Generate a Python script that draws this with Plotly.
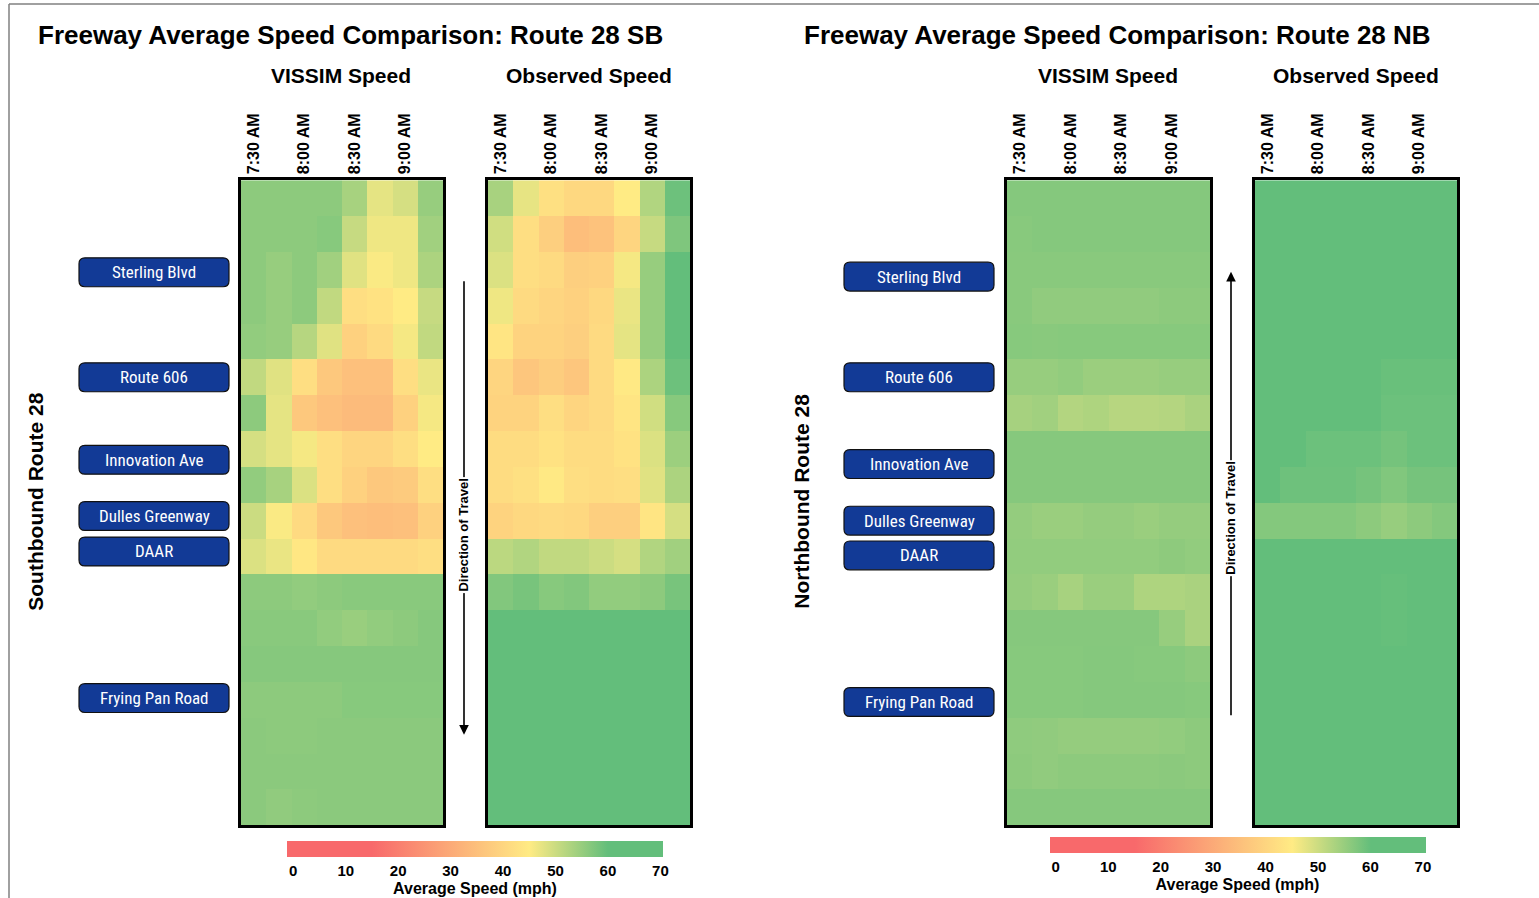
import plotly.graph_objects as go

W, H = 1539, 898

# ---------------- data ----------------
times = ["7:30 AM", "7:45 AM", "8:00 AM", "8:15 AM", "8:30 AM", "8:45 AM", "9:00 AM", "9:15 AM"]
tick_times = ["7:30 AM", "8:00 AM", "8:30 AM", "9:00 AM"]
segments = list(range(1, 19))

sb_vissim = [
    [56, 56, 56, 56, 53.5, 47.5, 49, 55],
    [56, 56, 56, 56.5, 50.5, 46.5, 46.5, 54],
    [56, 55, 56, 54, 48, 45.5, 46.5, 53],
    [56, 55, 56, 51, 42, 43, 45, 50.5],
    [55.5, 55, 52, 48, 39, 41, 46, 51],
    [51, 48, 42, 37, 35, 35, 42, 47],
    [56, 47.5, 37, 35, 34, 34, 39, 46],
    [49, 47.5, 46, 42, 40, 40, 42, 45],
    [55.5, 53.5, 48.5, 42, 39, 37, 37.5, 42],
    [50, 45.5, 41, 37, 35, 34.5, 35, 39],
    [48.5, 47, 44, 41, 41, 41, 41, 42],
    [56, 56, 55.5, 56, 56.3, 56.3, 56.3, 56.3],
    [56.3, 56.3, 56.3, 55.5, 54.8, 55.5, 56, 56.6],
    [56.6, 56.6, 56.6, 56.6, 56.6, 56.6, 56.6, 56.6],
    [56, 56, 56, 56, 56.5, 56.5, 56.5, 56.5],
    [56.2, 56, 56, 56.2, 56.2, 56.2, 56.2, 56.2],
    [56.2, 56.2, 56.2, 56.2, 56.2, 56.2, 56.2, 56.2],
    [56.2, 55.6, 56, 56.2, 56.2, 56.2, 56.2, 56.2],
]

sb_observed = [
    [53.4, 47.3, 42.5, 40.5, 40.5, 45, 52.5, 59],
    [49.5, 42, 38.5, 34.5, 35.5, 40, 50.5, 57.3],
    [48.5, 42, 41, 38.5, 39, 46, 55, 60],
    [46.5, 41, 40, 39, 40.5, 47, 55, 60],
    [43.5, 39.5, 39.5, 38.5, 41, 47.5, 55, 60],
    [40, 36.5, 38, 36.5, 41, 44.5, 53, 59],
    [39.5, 39.5, 42, 40, 41, 43.5, 49.5, 56.5],
    [41.5, 41.5, 43, 41.5, 41.5, 43, 48.5, 54.5],
    [41.5, 42.5, 44.5, 42, 41.5, 42, 48, 53],
    [39.5, 40.5, 41, 40.5, 38.5, 38.5, 43.5, 49],
    [51.5, 52.5, 51, 51, 50, 49, 52.5, 54],
    [57, 58, 56.5, 57, 55.5, 55.5, 56, 58],
    [60, 60, 60, 60, 60, 60, 60, 60],
    [60, 60, 60, 60, 60, 60, 60, 60],
    [60, 60, 60, 60, 60, 60, 60, 60],
    [60, 60, 60, 60, 60, 60, 60, 60],
    [60, 60, 60, 60, 60, 60, 60, 60],
    [60, 60, 60, 60, 60, 60, 60, 60],
]

nb_vissim = [
    [56.7, 56.7, 56.7, 56.7, 56.7, 56.7, 56.7, 56.7],
    [56.4, 56.7, 56.7, 56.7, 56.7, 56.7, 56.7, 56.7],
    [56.3, 56.3, 56.3, 56.3, 56.3, 56.3, 56.3, 56.3],
    [56.3, 55.6, 55.6, 55.6, 55.6, 55.6, 56, 56],
    [56.5, 56.3, 56.5, 56.5, 56.5, 56.5, 56.5, 56.5],
    [55, 55, 55.5, 54.6, 54.6, 54.6, 55, 55],
    [53.6, 54, 52.3, 52.8, 51.9, 51.9, 52.2, 53.2],
    [56.6, 56.6, 56.6, 56.6, 56.6, 56.6, 56.6, 56.6],
    [56.6, 56.6, 56.6, 56.6, 56.6, 56.6, 56.6, 56.6],
    [55.3, 54.7, 54.7, 55.2, 55.2, 54.7, 55.2, 55.2],
    [55.5, 55.5, 55.5, 55.5, 55.5, 55.5, 55.9, 55.5],
    [55.2, 54.7, 53.5, 54.7, 54.7, 52.8, 52.8, 53.2],
    [56.6, 56.6, 56.6, 56.6, 56.6, 56.6, 55, 53.2],
    [56.5, 56.5, 56.5, 56.7, 56.7, 56.5, 56.5, 56],
    [56.5, 56.5, 56.5, 56.7, 56.7, 56.7, 56.7, 56.5],
    [55.8, 55.6, 55.2, 55.2, 55.2, 55.2, 55.5, 56],
    [56, 55.6, 56, 56, 56, 56, 56.2, 56],
    [56.6, 56.6, 56.6, 56.6, 56.6, 56.6, 56.6, 56.6],
]

nb_observed = [
    [60, 60, 60, 60, 60, 60, 60, 60],
    [60, 60, 60, 60, 60, 60, 60, 60],
    [60, 60, 60, 60, 60, 60, 60, 60],
    [60, 60, 60, 60, 60, 60, 60, 60],
    [60, 60, 60, 60, 60, 60, 60, 60],
    [60, 60, 60, 60, 60, 59.4, 59.4, 59.4],
    [60, 60, 60, 60, 60, 59.1, 59.1, 59.1],
    [60, 60, 59.1, 59.1, 59.1, 58.3, 59.1, 59.1],
    [60, 58.9, 58.9, 58.9, 58.2, 57.1, 58.2, 58.2],
    [56.8, 56.8, 56.8, 56.8, 56, 55, 56, 56.8],
    [60, 60, 60, 60, 60, 60, 60, 60],
    [60, 60, 60, 60, 60, 59.7, 60, 60],
    [60, 60, 60, 60, 60, 59.7, 60, 60],
    [60, 60, 60, 60, 60, 60, 60, 60],
    [60, 60, 60, 60, 60, 60, 60, 60],
    [60, 60, 60, 60, 60, 60, 60, 60],
    [60, 60, 60, 60, 60, 60, 60, 60],
    [60, 60, 60, 60, 60, 60, 60, 60],
]

speed_ticks = [0, 10, 20, 30, 40, 50, 60, 70]

interchanges = ["Sterling Blvd", "Route 606", "Innovation Ave", "Dulles Greenway", "DAAR", "Frying Pan Road"]
sb_interchange_seg = [3.07, 6.0, 8.3, 9.87, 10.86, 14.95]
nb_interchange_seg = [3.19, 6.0, 8.42, 10.0, 10.97, 15.06]

# ---------------- helpers ----------------
def fx(px):
    return px / W


def fy(py):
    return 1 - py / H


CMIN, CMAX = -1.2, 70.5


def norm(v):
    return (v - CMIN) / (CMAX - CMIN)


colorscale = [
    [0.0, "#F8696B"],
    [norm(15), "#F8696B"],
    [norm(45), "#FFEB84"],
    [norm(60), "#63BE7B"],
    [1.0, "#63BE7B"],
]

FONT = "Arial, Liberation Sans, sans-serif"
NARROW = "Liberation Sans Narrow, Arial Narrow, Roboto Condensed, Roboto, sans-serif"

TOP, BOT = 181, 829
panels = [
    (sb_vissim, 241, 443, "", "coloraxis"),
    (sb_observed, 488, 690, "2", "coloraxis"),
    (nb_vissim, 1007, 1210, "3", "coloraxis2"),
    (nb_observed, 1255, 1457, "4", "coloraxis2"),
]

fig = go.Figure()
layout = {}
for z, x0, x1, sfx, cax in panels:
    fig.add_trace(go.Heatmap(
        z=z, x=times, y=segments, coloraxis=cax,
        xaxis="x" + sfx, yaxis="y" + sfx,
        hovertemplate="%{x}<br>Segment %{y}<br>%{z} mph<extra></extra>",
    ))
    layout["xaxis" + sfx] = dict(
        domain=[fx(x0), fx(x1)], anchor="y" + sfx, side="top",
        type="category", tickmode="array", tickvals=tick_times, ticktext=tick_times,
        tickangle=-90, tickfont=dict(family=FONT, size=16, color="black", weight="bold"),
        ticks="", showgrid=False, zeroline=False,
        showline=True, mirror=True, linecolor="black", linewidth=2.5,
    )
    layout["yaxis" + sfx] = dict(
        domain=[fy(BOT), fy(TOP)], anchor="x" + sfx, autorange="reversed",
        showticklabels=False, ticks="", showgrid=False, zeroline=False,
        showline=True, mirror=True, linecolor="black", linewidth=2.5,
    )


def cbar(cx, top):
    return dict(
        orientation="h", x=fx(cx), xanchor="center", y=fy(top), yanchor="top",
        lenmode="pixels", len=376, thicknessmode="pixels", thickness=16,
        outlinewidth=0, xpad=0, ypad=0, ticks="", tickvals=speed_ticks,
        tickfont=dict(family=FONT, size=15, color="black", weight="bold"),
        title=dict(text="Average Speed (mph)", side="bottom",
                   font=dict(family=FONT, size=16, color="black", weight="bold")),
    )


layout["coloraxis"] = dict(colorscale=colorscale, cmin=CMIN, cmax=CMAX, colorbar=cbar(475, 845))
layout["coloraxis2"] = dict(colorscale=colorscale, cmin=CMIN, cmax=CMAX, colorbar=cbar(1237.5, 841))

annotations = []
shapes = []


def txt(text, x, y, size, angle=0, bold=True, family=FONT, color="black"):
    annotations.append(dict(
        text=text, x=fx(x), y=fy(y), xref="paper", yref="paper", showarrow=False,
        xanchor="center", yanchor="middle", textangle=angle,
        font=dict(family=family, size=size, color=color, weight="bold" if bold else "normal"),
    ))


# main titles
txt("Freeway Average Speed Comparison: Route 28 SB", 350, 35, 26)
txt("Freeway Average Speed Comparison: Route 28 NB", 1117, 35, 26)
# panel headings
txt("VISSIM Speed", 341, 76, 21)
txt("Observed Speed", 589, 76, 21)
txt("VISSIM Speed", 1108, 76, 21)
txt("Observed Speed", 1356, 76, 21)
# side titles
txt("Southbound Route 28", 36, 504, 21, angle=-90)
txt("Northbound Route 28", 802, 504, 21, angle=-90)

# interchange labels (rounded boxes)
ROW_PX = (BOT - TOP) / 18.0


def rounded_box(cx, yseg, yref, w=150, h=29, r=6):
    x0, x1 = fx(cx - w / 2), fx(cx + w / 2)
    rx = r / W
    hy = (h / 2) / ROW_PX
    ry = r / ROW_PX
    y0, y1 = yseg - hy, yseg + hy
    path = (f"M {x0 + rx},{y0} L {x1 - rx},{y0} Q {x1},{y0} {x1},{y0 + ry} "
            f"L {x1},{y1 - ry} Q {x1},{y1} {x1 - rx},{y1} L {x0 + rx},{y1} "
            f"Q {x0},{y1} {x0},{y1 - ry} L {x0},{y0 + ry} Q {x0},{y0} {x0 + rx},{y0} Z")
    shapes.append(dict(type="path", path=path, xref="paper", yref=yref,
                       fillcolor="#123A96", line=dict(color="#111111", width=1.2)))


for names, segs, cx, yref in [(interchanges, sb_interchange_seg, 154, "y"),
                              (interchanges, nb_interchange_seg, 919, "y3")]:
    for name, s in zip(names, segs):
        rounded_box(cx, s, yref)
        annotations.append(dict(
            text=name, x=fx(cx), y=s, xref="paper", yref=yref, showarrow=False,
            xanchor="center", yanchor="middle",
            font=dict(family=NARROW, size=17, color="white"),
        ))

# direction of travel arrows
annotations.append(dict(text="", x=fx(464), y=fy(738), xref="paper", yref="paper",
                        ax=0, ay=-455, axref="pixel", ayref="pixel", showarrow=True,
                        arrowhead=2, arrowsize=1.2, arrowwidth=1.6, arrowcolor="black"))
annotations.append(dict(text="", x=fx(1231), y=fy(273), xref="paper", yref="paper",
                        ax=0, ay=445, axref="pixel", ayref="pixel", showarrow=True,
                        arrowhead=2, arrowsize=1.2, arrowwidth=1.6, arrowcolor="black"))
for x, y in [(464, 538), (1231, 521)]:
    annotations.append(dict(
        text="Direction of Travel", x=fx(x), y=fy(y), xref="paper", yref="paper",
        xanchor="center", yanchor="middle",
        showarrow=False, textangle=-90, bgcolor="white", borderpad=1,
        font=dict(family=FONT, size=13, color="black", weight="bold"),
    ))

# outer frame
shapes.append(dict(type="line", xref="paper", yref="paper", x0=fx(9), x1=1.01, y0=fy(4), y1=fy(4),
                   line=dict(color="#808080", width=1.5)))
shapes.append(dict(type="line", xref="paper", yref="paper", x0=fx(9), x1=fx(9), y0=fy(4), y1=-0.01,
                   line=dict(color="#808080", width=1.5)))

fig.update_layout(
    width=W, height=H, margin=dict(l=0, r=0, t=0, b=0),
    paper_bgcolor="white", plot_bgcolor="white", showlegend=False,
    annotations=annotations, shapes=shapes, **layout,
)

fig.write_html("out.html", config={"displayModeBar": False},
               post_script="document.body.style.margin='0';document.body.style.overflow='hidden';")
